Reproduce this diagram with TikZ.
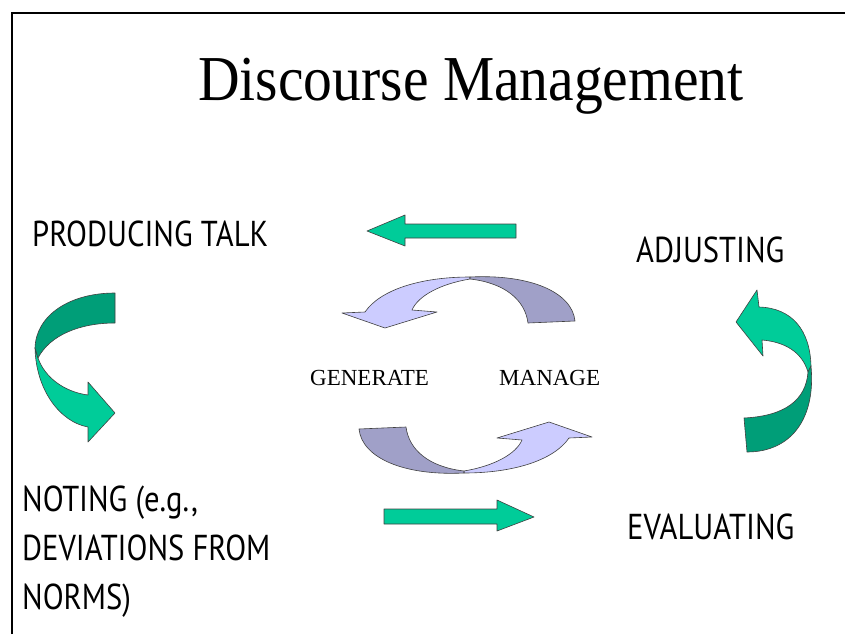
\documentclass[tikz,border=0pt]{standalone}
\usepackage{fontspec}
\setmainfont{Liberation Serif}
\newfontfamily\handfont[FakeStretch=0.85]{PT Sans}
\newfontfamily\headfont[FakeStretch=0.9]{Liberation Serif}

\definecolor{ltgreen}{RGB}{0,204,153}
\definecolor{dkgreen}{RGB}{0,158,120}
\definecolor{ltpurple}{RGB}{204,204,255}
\definecolor{dkpurple}{RGB}{160,160,200}

\tikzset{
    hand/.style={font=\handfont\fontsize{36}{36}\selectfont, anchor=base west, inner sep=0pt},
    plain/.style={font=\fontsize{23}{23}\selectfont, anchor=base west, inner sep=0pt},
    edge/.style={draw=black!75, line width=0.6pt, line join=round}
}

\begin{document}
\begin{tikzpicture}[x=1pt, y=-1pt]
    \useasboundingbox (0,0) rectangle (845,634);
    \draw[line width=1.6pt] (12,634) -- (12,13) -- (845,13);

    \node[inner sep=0pt, anchor=base, font=\headfont\fontsize{64}{64}\selectfont] (title) at (471,100) {Discourse Management};

    \node[hand] (produce) at (32,246) {PRODUCING TALK};
    \node[hand] (adjust) at (636,262) {ADJUSTING};
    \node[hand] (evaluate) at (627,539) {EVALUATING};
    \node[hand] (note1) at (22,511) {NOTING (e.g.,};
    \node[hand] (note2) at (22,560) {DEVIATIONS FROM};
    \node[hand] (note3) at (22,609) {NORMS)};

    \node[plain] (generate) at (310,385) {GENERATE};
    \node[plain] (manage) at (499,385) {MANAGE};

    % straight arrows
    \filldraw[fill=ltgreen, edge] (516,224) -- (405,224) -- (405,215) -- (367,231) -- (405,246) -- (405,238) -- (516,238) -- cycle;
    \filldraw[fill=ltgreen, edge] (384,509) -- (497,509) -- (497,500) -- (534,517) -- (497,531) -- (497,524) -- (384,524) -- cycle;

    % left ribbon
    \filldraw[fill=ltgreen, edge] (35,348) .. controls (36,390) and (60,422) .. (88,427) -- (88,442) -- (115,413) -- (88,382) -- (88,395)
        .. controls (65,392) and (45,378) .. (38,358) -- cycle;
    \filldraw[fill=dkgreen, edge] (115,293) .. controls (70,293) and (36,315) .. (35,348) -- (38,358)
        .. controls (50,335) and (80,323) .. (115,323) -- cycle;

    % right ribbon
    \filldraw[fill=ltgreen, edge] (757,290) -- (759,307) .. controls (792,308) and (810,330) .. (811,366) -- (808,372)
        .. controls (802,352) and (785,342) .. (762,340) -- (763,356) -- (736,322) -- cycle;
    \filldraw[fill=dkgreen, edge] (811,366) .. controls (816,420) and (790,452) .. (747,452) -- (744,418)
        .. controls (785,416) and (806,400) .. (808,372) -- cycle;

    % cycle in the middle
    \foreach \turn in {0,180} {
        \begin{scope}[rotate around={\turn:(467,375)}]
            \filldraw[fill=ltpurple, edge] (365,312) .. controls (380,290) and (420,277) .. (470,277)
                -- (470,279) .. controls (440,284) and (418,296) .. (412,310) -- (437,312) -- (385,328) -- (342,313) -- cycle;
            \filldraw[fill=dkpurple, edge] (470,277) .. controls (530,274) and (572,292) .. (575,321) -- (528,323)
                .. controls (525,300) and (505,283) .. (470,279) -- cycle;
        \end{scope}
    }
\end{tikzpicture}
\end{document}
